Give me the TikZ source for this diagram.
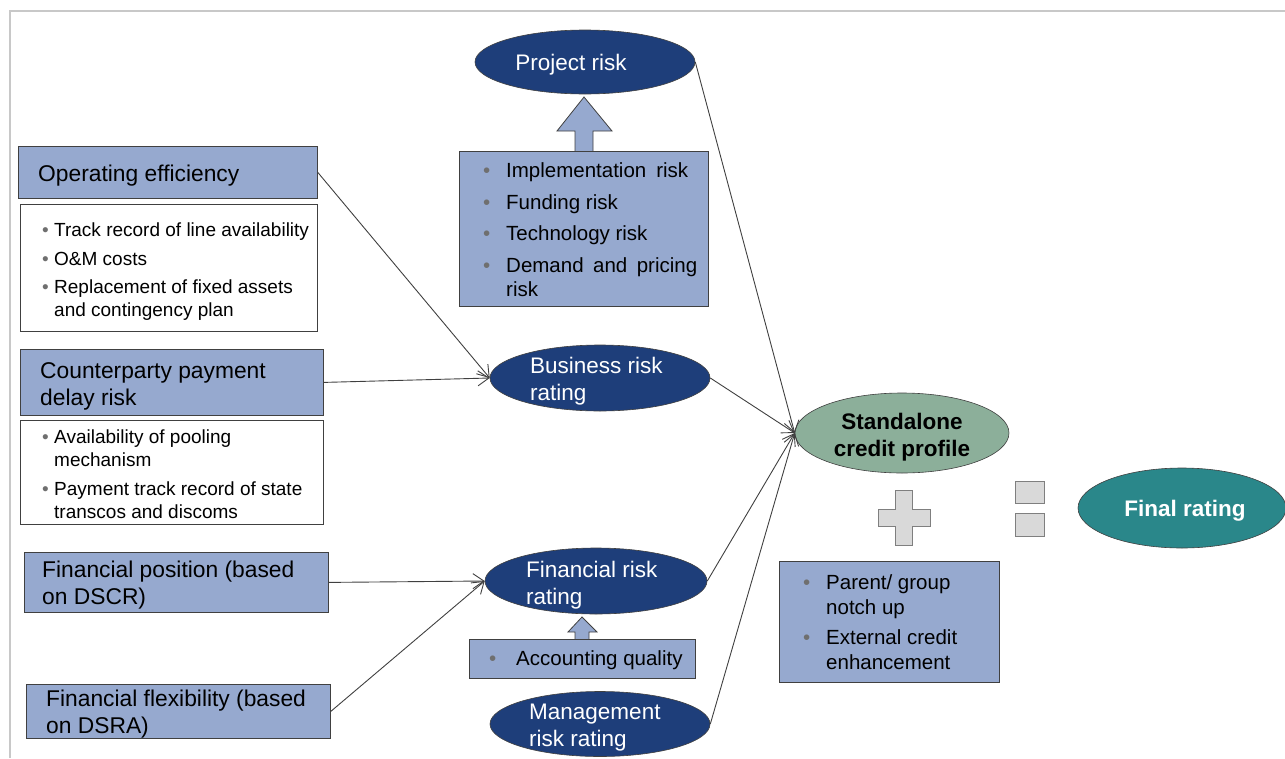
\documentclass[tikz,border=0pt]{standalone}
\usepackage{fontspec}
\setmainfont{Liberation Sans}
\usetikzlibrary{shapes.geometric,arrows.meta}
\definecolor{boxblue}{HTML}{96A9CF}
\definecolor{boxborder}{HTML}{404040}
\definecolor{navy}{HTML}{1E3E7A}
\definecolor{sagegreen}{HTML}{8CAF9A}
\definecolor{tealc}{HTML}{2A878A}
\definecolor{signgray}{HTML}{D9D9D9}
\definecolor{signborder}{HTML}{7F7F7F}
\definecolor{framegray}{HTML}{C8C8C8}
\definecolor{linegray}{HTML}{404040}
\definecolor{bulgray}{HTML}{6F6F6F}
\newcommand{\wbul}{\makebox[12pt][l]{\color{bulgray}\textbullet}}
\newcommand{\wind}{\hspace*{12pt}}
\newcommand{\pbul}{\makebox[23pt][l]{\color{bulgray}\textbullet}}
\newcommand{\pind}{\hspace*{23pt}}
\tikzset{
  catbox/.style={draw=boxborder, fill=boxblue, line width=0.8pt, anchor=north west, inner sep=0pt},
  listbox/.style={draw=boxborder, fill=white, line width=0.8pt, anchor=north west, inner sep=0pt},
  cattext/.style={anchor=west, align=left, inner sep=0pt, font=\fontsize{22.8}{27}\selectfont},
  listtext/.style={anchor=west, align=left, inner sep=0pt, font=\fontsize{19}{23}\selectfont},
  projtext/.style={anchor=west, align=left, inner sep=0pt, font=\fontsize{20.5}{24.5}\selectfont},
  riskell/.style={ellipse, draw=boxborder, fill=navy, line width=0.6pt, inner sep=0pt},
  elltext/.style={anchor=west, align=left, inner sep=0pt, text=white, font=\fontsize{22.5}{27}\selectfont},
  link/.style={draw=linegray, line width=0.9pt, -{Straight Barb[length=11pt,width=15pt]}},
  uparrow/.style={draw=boxborder, fill=boxblue, line width=0.8pt},
  sign/.style={draw=signborder, fill=signgray, line width=0.8pt}
}
\begin{document}
\begin{tikzpicture}[x=1pt,y=-1pt]
\useasboundingbox (0,0) rectangle (1285,758);
% frame
\draw[framegray, line width=1.2pt] (10,758) -- (10,11) -- (1285,11);

% up arrows (drawn below boxes)
\draw[uparrow] (575,152) -- (575,131) -- (557,131) -- (584,97) -- (612,131) -- (593,131) -- (593,152);
\draw[uparrow] (575,641) -- (575,632) -- (568,632) -- (582,617) -- (597,632) -- (589,632) -- (589,641);

% left column
\node[catbox, minimum width=299pt, minimum height=52pt] (oe) at (18,146) {};
\node[cattext] (oet) at (38,176) {Operating efficiency};
\node[listbox, minimum width=297pt, minimum height=127pt] (oel) at (20,204) {};
\node[listtext] (oelt) at (42,272) {\wbul Track record of line availability\\[6pt]
\wbul O\&M costs\\[5pt]
\wbul Replacement of fixed assets\\
\wind and contingency plan};

\node[catbox, minimum width=303pt, minimum height=66pt] (cp) at (20,349) {};
\node[cattext] (cpt) at (40,386) {Counterparty payment\\delay risk};
\node[listbox, minimum width=303pt, minimum height=104pt] (cpl) at (20,420) {};
\node[listtext] (cplt) at (42,474) {\wbul Availability of pooling\\
\wind mechanism\\[6pt]
\wbul Payment track record of state\\
\wind transcos and discoms};

\node[catbox, minimum width=304pt, minimum height=60pt] (fp) at (24,552) {};
\node[cattext] (fpt) at (42,585) {Financial position (based\\on DSCR)};
\node[catbox, minimum width=304pt, minimum height=54pt] (ff) at (26,684) {};
\node[cattext] (fft) at (46,714) {Financial flexibility (based\\on DSRA)};

% centre column
\node[riskell, minimum width=220pt, minimum height=64pt] (pr) at (585,62) {};
\node[elltext, anchor=center] (prt) at (571,65) {Project risk};
\node[catbox, minimum width=249pt, minimum height=155pt] (pb) at (459,151) {};
\node[projtext] (pbt) at (483,230) {\pbul\makebox[182pt][s]{Implementation risk}\\[7pt]
\pbul Funding  risk\\[7pt]
\pbul Technology risk\\[7pt]
\pbul\makebox[191pt][s]{Demand and pricing}\\
\pind risk};

\node[riskell, minimum width=220pt, minimum height=66pt] (br) at (600,378) {};
\node[elltext] (brt) at (530,381) {Business risk\\rating};

\node[riskell, minimum width=222pt, minimum height=66pt] (fr) at (596,581) {};
\node[elltext] (frt) at (526,585) {Financial risk\\rating};
\node[catbox, minimum width=226pt, minimum height=39pt] (aq) at (469,639) {};
\node[projtext] (aqt) at (489,660) {\makebox[27pt][l]{\color{bulgray}\textbullet}Accounting quality};

\node[riskell, minimum width=220pt, minimum height=65pt] (mr) at (600,724) {};
\node[elltext] (mrt) at (529,728) {Management\\risk rating};

% right side
\node[ellipse, draw=boxborder, fill=sagegreen, line width=0.6pt, inner sep=0pt, minimum width=214pt, minimum height=80pt] (sa) at (902,433) {};
\node[anchor=center, align=center, inner sep=0pt, font=\fontsize{22.5}{27}\selectfont\bfseries] (sat) at (902,437) {Standalone\\credit profile};

\draw[sign] (895,490) -- (912,490) -- (912,509) -- (930,509) -- (930,526) -- (912,526) -- (912,545) -- (895,545) -- (895,526) -- (878,526) -- (878,509) -- (895,509) -- cycle;
\draw[sign] (1015,481) rectangle (1044,503);
\draw[sign] (1015,513) rectangle (1044,536);

\node[ellipse, draw=boxborder, fill=tealc, line width=0.6pt, inner sep=0pt, minimum width=208pt, minimum height=80pt] (fin) at (1182,508) {};
\node[anchor=center, inner sep=0pt, text=white, font=\fontsize{22.5}{27}\selectfont\bfseries] (fint) at (1185,511) {Final rating};

\node[catbox, minimum width=220pt, minimum height=121pt] (pg) at (779,561) {};
\node[projtext] (pgt) at (803,622) {\pbul Parent/ group\\
\pind notch up\\[6pt]
\pbul External credit\\
\pind enhancement};

% connectors
\draw[link] (oe.east) -- (br.west);
\draw[link] (cp.east) -- (br.west);
\draw[link] (fp.east) -- (fr.west);
\draw[link] (ff.east) -- (fr.west);
\draw[link] (pr.east) -- (sa.west);
\draw[link] (br.east) -- (sa.west);
\draw[link] (fr.east) -- (sa.west);
\draw[link] (mr.east) -- (sa.west);
\end{tikzpicture}
\end{document}
